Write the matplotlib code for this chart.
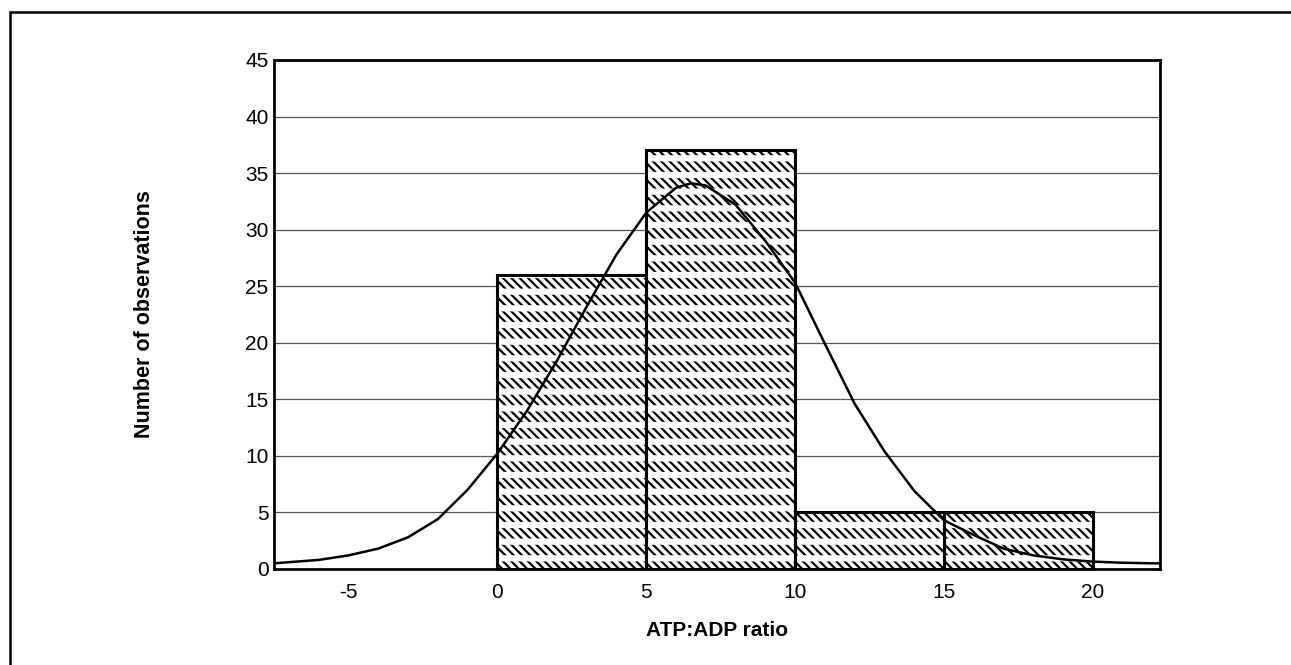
import matplotlib.pyplot as plt
from matplotlib.patches import Rectangle

plt.rcParams["font.family"] = ["Liberation Sans", "DejaVu Sans"]
plt.rcParams["axes.unicode_minus"] = False

# histogram bins (left edges) and counts
bin_left = [0, 5, 10, 15]
bin_width = 5
counts = [26, 37, 5, 5]

# fitted normal curve
curve_x = [-7.5, -7, -6, -5, -4, -3, -2, -1, 0, 1, 2, 3, 4, 5, 6, 6.5, 7, 8, 9, 10,
           11, 12, 13, 14, 15, 16, 17, 18, 19, 20, 21, 22, 22.25]
curve_y = [0.5, 0.6, 0.8, 1.2, 1.8, 2.8, 4.4, 7.0, 10.2, 14.0, 18.4, 23.2, 27.8, 31.5, 33.7, 34.1,
           33.9, 32.2, 29.0, 25.3, 19.9, 14.6, 10.4, 6.9, 4.3, 3.0, 1.8, 1.2, 0.85, 0.65, 0.55, 0.5, 0.5]

x_ticks = [-5, 0, 5, 10, 15, 20]
y_ticks = [0, 5, 10, 15, 20, 25, 30, 35, 40, 45]


def main():
    fig = plt.figure(figsize=(12.91, 6.65), dpi=100)
    ax = fig.add_axes([0.2122, 0.1444, 0.6863, 0.7654])

    # outer frame of the original figure (only left and top edges visible)
    fig.patches.append(Rectangle((10 / 1291, -0.1), 1.2, 0.1 + (665 - 12) / 665,
                                 transform=fig.transFigure, fill=False,
                                 edgecolor="black", linewidth=1.8))

    ax.yaxis.grid(True, color="#555555", linewidth=0.9)
    ax.set_axisbelow(True)

    # hatched bars: diagonal strokes, broken into rows by white hatch lines
    diag = ax.bar(bin_left, counts, width=bin_width, align="edge", facecolor="white",
                  edgecolor="black", hatch="\\\\\\\\", linewidth=0.5, zorder=2)
    rows = ax.bar(bin_left, counts, width=bin_width, align="edge", facecolor="none",
                  edgecolor="white", hatch="-", linewidth=0.5, zorder=2.1)
    for p in diag:
        p.set_hatch_linewidth(1.6)
    for p in rows:
        p.set_hatch_linewidth(4.5)
    ax.bar(bin_left, counts, width=bin_width, align="edge", fill=False,
           edgecolor="black", linewidth=2.2, zorder=2.2)

    ax.plot(curve_x, curve_y, color="black", linewidth=1.8, zorder=3)

    ax.set_xlim(-7.5, 22.25)
    ax.set_ylim(0, 45)
    ax.set_xticks(x_ticks)
    ax.set_yticks(y_ticks)
    ax.tick_params(length=0, labelsize=15)
    ax.tick_params(axis="x", pad=10)
    ax.tick_params(axis="y", pad=4)
    for s in ax.spines.values():
        s.set_linewidth(2)

    ax.set_xlabel("ATP:ADP ratio", fontsize=15, fontweight="bold", labelpad=14)
    ax.set_ylabel("Number of observations", fontsize=15.5, fontweight="bold", labelpad=65)

    fig.savefig("out.png", dpi=100)


if __name__ == "__main__":
    main()
